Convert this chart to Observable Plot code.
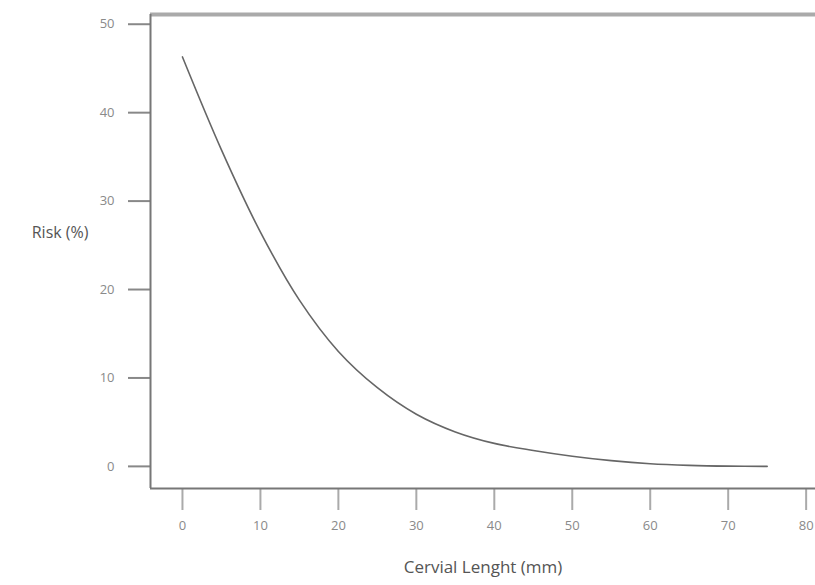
<!DOCTYPE html>
<html>
<head>
<meta charset="utf-8">
<script src="https://cdn.jsdelivr.net/npm/d3@7"></script>
<script src="https://cdn.jsdelivr.net/npm/@observablehq/plot@0.6"></script>
<style>
  html, body { margin: 0; padding: 0; background: #fff; }
  #chart { width: 815px; height: 585px; }
</style>
</head>
<body>
<div id="chart"></div>
<script>
// Data
const cervicalLength = [0, 5, 10, 15, 20, 25, 30, 35, 40, 45, 50, 55, 60, 65, 70, 75];
const riskPercent    = [46.3, 35.8, 26.5, 18.8, 13.0, 8.9, 5.9, 3.9, 2.6, 1.8, 1.15, 0.65, 0.3, 0.12, 0.03, 0.0];
const xTicks = [0, 10, 20, 30, 40, 50, 60, 70, 80];
const yTicks = [0, 10, 20, 30, 40, 50];
const xTitle = "Cervial Lenght (mm)";
const yTitle = "Risk (%)";

const xDomain = [-4.1, 81.2];
const yDomain = [-2.5, 51.1];

const data = cervicalLength.map((x, i) => ({x, y: riskPercent[i]}));

const chart = Plot.plot({
  width: 815,
  height: 585,
  marginLeft: 150,
  marginRight: 0,
  marginTop: 14,
  marginBottom: 97,
  style: {fontFamily: "'Open Sans', sans-serif", fontSize: "13px", background: "#fff"},
  x: {domain: xDomain},
  y: {domain: yDomain},
  marks: [
    Plot.axisY({ticks: yTicks, tickSize: 22, stroke: "#888", strokeWidth: 2, tickFormat: () => "", label: null}),
    Plot.axisX({ticks: xTicks, tickSize: 22, stroke: "#aaa", strokeWidth: 2, tickFormat: () => "", label: null}),
    Plot.text(yTicks, {x: xDomain[0], y: d => d, dx: -36, textAnchor: "end", fill: "#8a8a8a", fontSize: 13}),
    Plot.text(xTicks, {x: d => d, y: yDomain[0], dy: 37, fill: "#8a8a8a", fontSize: 13}),
    Plot.ruleY([yDomain[1]], {stroke: "#aaa", strokeWidth: 4}),
    Plot.ruleX([xDomain[0]], {stroke: "#777", strokeWidth: 2}),
    Plot.ruleY([yDomain[0]], {stroke: "#777", strokeWidth: 2}),
    Plot.line(data, {x: "x", y: "y", stroke: "#666", strokeWidth: 1.6, curve: "catmull-rom"}),
    Plot.text([yTitle], {frameAnchor: "left", textAnchor: "end", dx: -62, dy: -19, fill: "#555", fontSize: 16}),
    Plot.text([xTitle], {frameAnchor: "bottom", dy: 84, fill: "#555", fontSize: 17})
  ]
});
document.getElementById("chart").appendChild(chart);
</script>
</body>
</html>
